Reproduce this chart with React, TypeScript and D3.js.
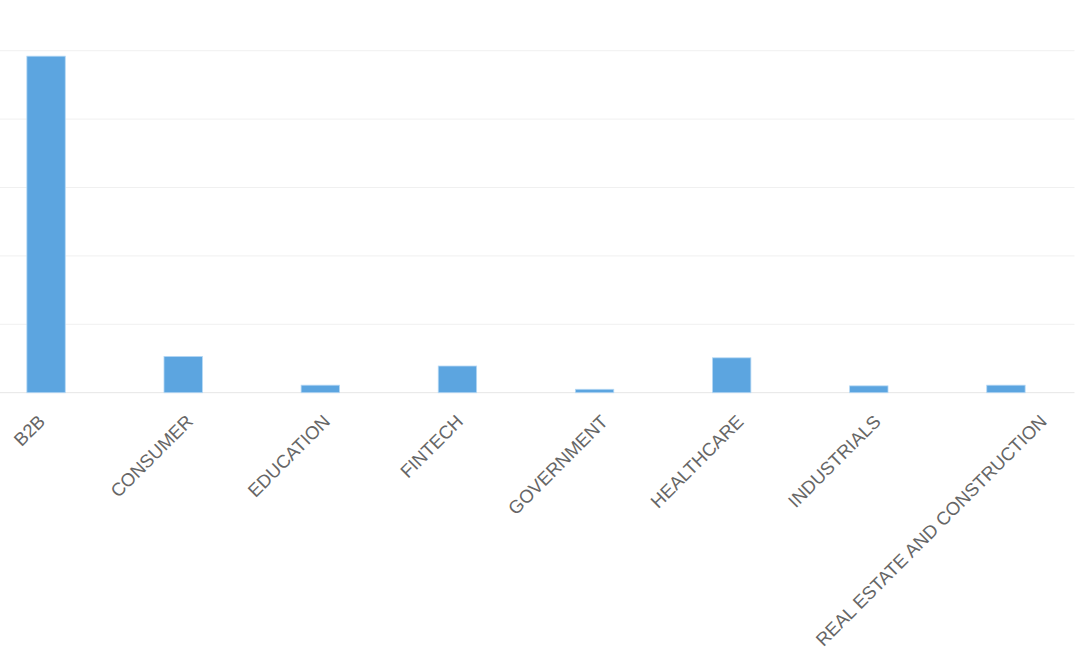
import React, { useEffect, useRef } from "react";
import * as d3 from "d3";

const categories = [
  "B2B",
  "CONSUMER",
  "EDUCATION",
  "FINTECH",
  "GOVERNMENT",
  "HEALTHCARE",
  "INDUSTRIALS",
  "REAL ESTATE AND CONSTRUCTION",
];
const values = [492, 53, 11, 39, 5, 51, 10, 11];
const yTicks = [0, 100, 200, 300, 400, 500];

const W = 1080;
const H = 659;
const plotLeft = -22.5;
const plotRight = 1074.5;
const plotTop = 50.7;
const plotBottom = 392.7;

export default function App() {
  const labelsRef = useRef<SVGGElement>(null);

  const x = d3
    .scaleBand<string>()
    .domain(categories)
    .range([plotLeft, plotRight])
    .paddingInner(0.72)
    .paddingOuter(0.36);
  const y = d3.scaleLinear().domain([0, 500]).range([plotBottom, plotTop]);

  useEffect(() => {
    if (!labelsRef.current) return;
    d3.select(labelsRef.current)
      .selectAll<SVGTextElement, string>("text")
      .each(function () {
        const t = this as SVGTextElement;
        const c = Number(t.getAttribute("data-c"));
        const L = t.getComputedTextLength();
        t.setAttribute(
          "transform",
          `translate(${c - 5 + 0.148 * L},${plotBottom + 30}) rotate(-45)`
        );
      });
  }, []);

  return (
    <svg
      width={W}
      height={H}
      style={{ position: "absolute", left: 0, top: 0, background: "#fff" }}
    >
      <g>
        {yTicks.map((t) => (
          <line
            key={t}
            x1={0}
            x2={plotRight}
            y1={y(t)}
            y2={y(t)}
            stroke={t === 0 ? "#e6e6e6" : "#f0f0f0"}
            strokeWidth={1}
          />
        ))}
      </g>
      <g>
        {categories.map((c, i) => (
          <rect
            key={c}
            x={x(c)!}
            y={y(values[i])}
            width={x.bandwidth()}
            height={y(0) - y(values[i])}
            fill="#5ca5e0"
            stroke="#b5d8f4"
            strokeWidth={0.8}
          />
        ))}
      </g>
      <g ref={labelsRef}>
        {categories.map((c) => (
          <text
            key={c}
            data-c={x(c)! + x.bandwidth() / 2}
            textAnchor="end"
            fontFamily="'Liberation Sans', Arial, Helvetica, sans-serif"
            fontSize={18.4}
            fill="#666666"
          >
            {c}
          </text>
        ))}
      </g>
    </svg>
  );
}
